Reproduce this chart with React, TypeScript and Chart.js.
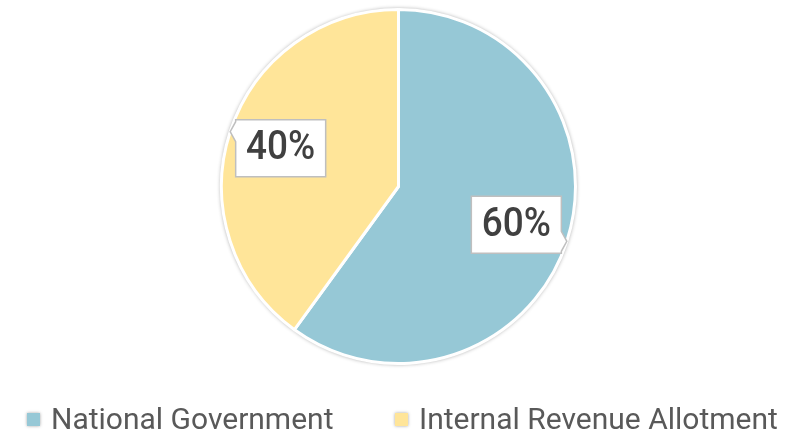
import React, { useEffect, useRef } from "react";
import { Chart, registerables } from "chart.js";

Chart.register(...registerables);

const categories = ["National Government", "Internal Revenue Allotment"];
const values = [60, 40];
const colors = ["#96C8D6", "#FFE599"];

const FONT = "Roboto";

const overlayPlugin = {
  id: "overlay",
  beforeDatasetsDraw(chart: any) {
    const meta = chart.getDatasetMeta(0);
    const arc = meta.data[0];
    if (!arc) return;
    const { x, y, outerRadius } = arc.getProps(["x", "y", "outerRadius"], true);
    const ctx = chart.ctx;
    ctx.save();
    ctx.shadowColor = "rgba(0,0,0,0.45)";
    ctx.shadowBlur = 4;
    ctx.fillStyle = "#ffffff";
    ctx.beginPath();
    ctx.arc(x, y, outerRadius + 0.5, 0, Math.PI * 2);
    ctx.fill();
    ctx.restore();
  },
  afterDraw(chart: any) {
    const ctx = chart.ctx;
    const meta = chart.getDatasetMeta(0);
    const total = values.reduce((a, b) => a + b, 0);
    meta.data.forEach((arc: any, i: number) => {
      const p = arc.getProps(["x", "y", "startAngle", "endAngle", "outerRadius"], true);
      const mid = (p.startAngle + p.endAngle) / 2;
      const d = p.outerRadius * 0.7;
      const cx = p.x + Math.cos(mid) * d;
      const cy = p.y + Math.sin(mid) * d;
      const w = 90, h = 57;
      const l = cx - w / 2, r = cx + w / 2, t = cy - h / 2, b = cy + h / 2;
      const left = Math.cos(mid) < 0;
      const up = Math.sin(mid) < 0;
      const tipY = up ? t + 12 : b - 12;
      const dy = tipY - p.y;
      const dx = Math.sqrt(Math.max(0, p.outerRadius * p.outerRadius - dy * dy));
      const tipX = left ? p.x - dx : p.x + dx;
      const y1 = tipY - 10, y2 = tipY + 10;
      ctx.save();
      ctx.beginPath();
      ctx.moveTo(l, t);
      ctx.lineTo(r, t);
      if (!left) {
        ctx.lineTo(r, y1);
        ctx.lineTo(tipX, tipY);
        ctx.lineTo(r, y2);
      }
      ctx.lineTo(r, b);
      ctx.lineTo(l, b);
      if (left) {
        ctx.lineTo(l, y2);
        ctx.lineTo(tipX, tipY);
        ctx.lineTo(l, y1);
      }
      ctx.closePath();
      ctx.fillStyle = "#ffffff";
      ctx.fill();
      ctx.strokeStyle = "#BFBFBF";
      ctx.lineWidth = 1.5;
      ctx.stroke();
      const txt = Math.round((values[i] / total) * 100) + "%";
      ctx.translate(cx, cy + 1);
      ctx.scale(0.9, 1);
      ctx.fillStyle = "#404040";
      ctx.font = `500 41px ${FONT}`;
      ctx.textAlign = "center";
      ctx.textBaseline = "middle";
      ctx.fillText(txt, 0, 0);
      ctx.restore();
    });

    // legend
    const legendX = [27, 395];
    ctx.save();
    categories.forEach((c, i) => {
      const sx = legendX[i];
      ctx.save();
      ctx.shadowColor = "rgba(0,0,0,0.35)";
      ctx.shadowBlur = 3;
      ctx.fillStyle = colors[i];
      ctx.fillRect(sx, 413, 13, 13);
      ctx.restore();
      ctx.fillStyle = "#595959";
      ctx.font = `30px ${FONT}`;
      ctx.textAlign = "left";
      ctx.textBaseline = "alphabetic";
      ctx.fillText(c, sx + 24, 429);
    });
    ctx.restore();
  },
};

export default function App() {
  const ref = useRef<HTMLCanvasElement>(null);
  useEffect(() => {
    if (!ref.current) return;
    const chart = new Chart(ref.current, {
      type: "pie",
      data: {
        labels: categories,
        datasets: [
          {
            data: values,
            backgroundColor: colors,
            borderColor: "#ffffff",
            borderWidth: 3,
          },
        ],
      },
      options: {
        responsive: false,
        animation: false,
        layout: { padding: { top: 8, bottom: 68, left: 2, right: 0 } },
        plugins: {
          legend: { display: false },
          tooltip: { enabled: false },
        },
      },
      plugins: [overlayPlugin],
    });
    return () => chart.destroy();
  }, []);
  return (
    <div style={{ position: "fixed", left: 0, top: 0, width: 795, height: 433, background: "#fff" }}>
      <canvas ref={ref} width={795} height={433} />
    </div>
  );
}
